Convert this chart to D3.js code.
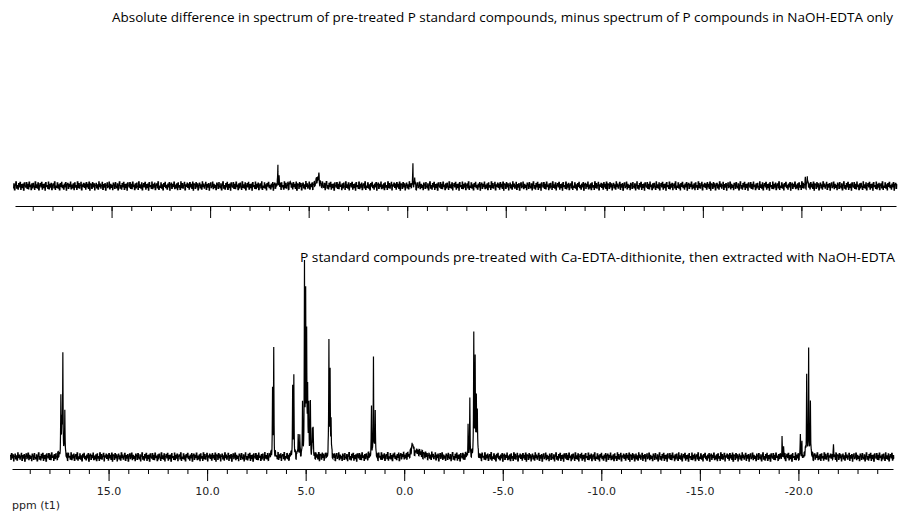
<!DOCTYPE html>
<html>
<head>
<meta charset="utf-8">
<script src="https://cdn.jsdelivr.net/npm/d3@7"></script>
<style>
  html, body { margin: 0; padding: 0; background: #fff; }
  svg { display: block; }
</style>
</head>
<body>
<div id="chart"></div>
<script>
// ---------------- data ----------------
const ppmDomain = [19.9, -24.8];
const majorTicks = [15, 10, 5, 0, -5, -10, -15, -20];
const tickLabels = ["15.0", "10.0", "5.0", "0.0", "-5.0", "-10.0", "-15.0", "-20.0"];
const minorTicks = d3.range(19, -25, -1);
const axisTitle = "ppm (t1)";
const titleTop = "Absolute difference in spectrum of  pre-treated P standard compounds, minus spectrum of P compounds in NaOH-EDTA only";
const titleBottom = "P standard compounds pre-treated with Ca-EDTA-dithionite, then extracted with NaOH-EDTA";

// peak lists: [ppm, relative height, half-width ppm]
const peaksBottom = [
  [17.42, 29, 0.012], [17.37, 18, 0.02], [17.32, 52, 0.012], [17.22, 26, 0.012],
  [6.68, 35, 0.012], [6.62, 57, 0.012],
  [5.66, 37, 0.012], [5.60, 42, 0.012],
  [5.38, 13, 0.012], [5.30, 9, 0.012],
  [5.16, 29, 0.012], [5.06, 100, 0.012], [5.00, 84, 0.012], [4.95, 60, 0.012], [4.90, 35, 0.012],
  [4.84, 28, 0.012], [4.76, 27, 0.012], [4.66, 14, 0.012], [4.62, 13, 0.012],
  [3.82, 62, 0.012], [3.76, 46, 0.012], [3.71, 18, 0.012],
  [1.66, 29, 0.012], [1.56, 52, 0.012], [1.47, 26, 0.012],
  [-0.42, 6, 0.04], [-0.65, 2.5, 0.3],
  [-3.24, 16, 0.012], [-3.33, 30, 0.012], [-3.53, 67, 0.012], [-3.60, 54, 0.012],
  [-3.66, 30, 0.012], [-3.71, 24, 0.012],
  [-19.17, 9, 0.012], [-19.25, 5, 0.012],
  [-20.10, 11, 0.012], [-20.18, 6, 0.012],
  [-20.35, 5, 0.012], [-20.42, 46, 0.012], [-20.52, 56, 0.012], [-20.61, 31, 0.012],
  [-21.78, 5, 0.012]
];
const peaksTop = [
  [6.56, 9.2, 0.012], [6.50, 5, 0.012],
  [5.95, 2.7, 0.015],
  [4.55, 3.5, 0.08], [4.48, 5, 0.02],
  [-0.29, 10.3, 0.012], [-0.38, 5, 0.012],
  [-20.30, 5.4, 0.012], [-20.20, 3, 0.012]
];
// baseline noise texture (typed values, relative units)
const noise = [
  0.6,-0.9,1.2,-0.3,0.8,-1.4,0.2,1.0,-0.7,0.4,-1.1,1.5,-0.2,0.7,-0.8,0.1,1.3,-1.2,0.5,-0.4,
  0.9,-1.5,0.3,1.1,-0.6,-0.1,1.4,-1.0,0.6,-0.5,0.2,-1.3,1.0,0.4,-0.9,1.2,-0.2,-0.7,0.8,-1.4,
  0.3,1.5,-0.8,0.1,-1.1,0.9,-0.3,1.3,-1.2,0.5,-0.6,0.7,-1.5,1.1,0.0,-0.4,1.2,-0.9,0.6,-1.0,
  1.4,-0.2,0.3,-1.3,0.8,-0.7,1.0,-0.1,-1.2,1.5,-0.5,0.4,-0.8,1.1,-1.4,0.2,0.9,-0.3,1.3,-1.1,
  0.5,-0.6,0.7,-1.5,1.2,-0.2,0.1,-0.9,1.4,-1.0,0.6,-0.4,1.0,-1.3,0.3,0.8,-0.7,1.5,-1.2,0.0,
  -0.5,1.1,-0.8,0.4,-1.4,0.9,-0.1,1.3,-0.6,0.2,-1.1,0.7,-0.3,1.2,-1.5,0.5,1.0,-0.9,0.6,-0.2,
  1.4,-1.0,0.3,-0.7,0.8,-1.3,1.1,-0.4,0.1,-1.2,1.5,-0.6,0.9,-0.8,0.2,1.3,-1.4,0.4,-0.1,1.0,
  -0.5,0.7,-1.1,1.2,-0.3,0.6,-0.9,1.4,-1.5,0.8
];

// ---------------- drawing ----------------
const W = 899, H = 511;
const svg = d3.select("#chart").append("svg").attr("width", W).attr("height", H);
svg.append("rect").attr("width", W).attr("height", H).attr("fill", "#fff");

const xB = d3.scaleLinear().domain(ppmDomain).range([12, 893]);
const xT = d3.scaleLinear().domain(ppmDomain).range([15, 896]);
const yB = d3.scaleLinear().domain([0, 100]).range([457, 272]);
const yT = d3.scaleLinear().domain([0, 100]).range([186, 1]);

function spectrum(peaks, noiseOffset) {
  const grid = d3.range(20.0, -24.86, -0.01);
  peaks.forEach(p => grid.push(p[0]));
  grid.sort((a, b) => b - a);
  return grid.map(ppm => {
    let v = 0;
    peaks.forEach(([c, h, w]) => { const d = (ppm - c) / w; v += h / (1 + d * d); });
    const idx = (Math.floor((20.0 - ppm) / 0.035) + noiseOffset) % noise.length;
    v += noise[idx] * 1.5;
    return [ppm, v];
  });
}

function drawSpectrum(data, x, y) {
  svg.append("path")
    .datum(data)
    .attr("fill", "none")
    .attr("stroke", "#000")
    .attr("stroke-width", 1.2)
    .attr("stroke-linejoin", "miter")
    .attr("d", d3.line().x(d => x(d[0])).y(d => y(d[1])));
}

drawSpectrum(spectrum(peaksTop, 37), xT, yT);
drawSpectrum(spectrum(peaksBottom, 0), xB, yB);

function drawAxis(x, yPos, withLabels) {
  const g = svg.append("g").attr("transform", `translate(0,${yPos})`);
  g.call(d3.axisBottom(x).tickValues(minorTicks).tickSize(5).tickSizeOuter(0).tickFormat(""));
  const gm = svg.append("g").attr("transform", `translate(0,${yPos})`);
  gm.call(d3.axisBottom(x).tickValues(majorTicks).tickSize(12).tickSizeOuter(0)
    .tickFormat((d, i) => withLabels ? tickLabels[i] : ""));
  gm.select(".domain").remove();
  [g, gm].forEach(s => {
    s.selectAll("line").attr("stroke", "#000").attr("stroke-width", 1);
    s.selectAll(".domain").attr("stroke", "#000");
  });
  gm.selectAll("text")
    .attr("font-family", "DejaVu Sans, Verdana, sans-serif")
    .attr("font-size", 11)
    .attr("fill", "#222")
    .attr("dy", "1.0em");
}
drawAxis(xT, 206, false);
drawAxis(xB, 469, true);

svg.append("text")
  .attr("x", 12).attr("y", 509)
  .attr("font-family", "DejaVu Sans, Verdana, sans-serif")
  .attr("font-size", 11).attr("fill", "#222")
  .text(axisTitle);

svg.append("text")
  .attr("x", 112).attr("y", 22)
  .attr("font-family", "Open Sans, sans-serif")
  .attr("font-size", 12).attr("font-weight", 500).attr("fill", "#000")
  .attr("textLength", 781).attr("lengthAdjust", "spacingAndGlyphs")
  .text(titleTop);

svg.append("text")
  .attr("x", 300).attr("y", 262)
  .attr("font-family", "Open Sans, sans-serif")
  .attr("font-size", 12).attr("font-weight", 500).attr("fill", "#000")
  .attr("textLength", 595).attr("lengthAdjust", "spacingAndGlyphs")
  .text(titleBottom);
</script>
</body>
</html>
